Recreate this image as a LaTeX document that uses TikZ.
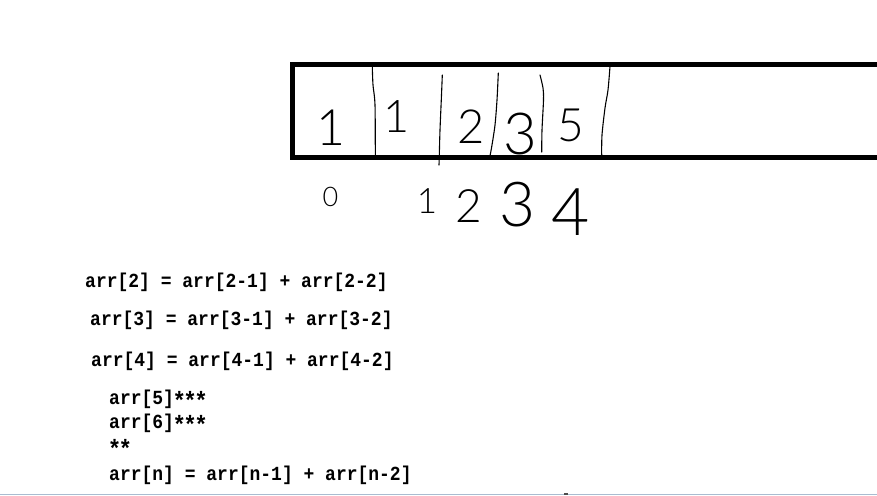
\documentclass[tikz,border=0pt]{standalone}
\usepackage{fontspec}
\newfontfamily\codefont{Liberation Mono}[FakeStretch=0.9]
\newfontfamily\handfont{Lato Light}
\definecolor{baseblue}{HTML}{A9BCD0}
\newcommand\codestar{\makebox[10.8pt]{\raisebox{-5.5pt}{\fontsize{25}{25}\selectfont *}}}
\tikzset{
  code/.style={anchor=base west, inner sep=0, font=\codefont\bfseries\fontsize{20}{20}\selectfont},
  digit/.style={inner sep=0, font=\handfont\fontsize{#1}{#1}\selectfont},
  handline/.style={line width=1.1pt, line cap=round, line join=round},
  frame/.style={line width=5pt}
}
\begin{document}
\begin{tikzpicture}[x=1pt,y=-1pt]
\useasboundingbox (0,0) rectangle (877,495);
\clip (0,0) rectangle (877,495);
% array frame
\draw[frame] (885,64.5) -- (292.5,64.5) -- (292.5,157) -- (885,157);
% hand-drawn dividers
\draw[handline] plot[smooth] coordinates {(372.3,67) (373,85) (375,105) (375.3,155)};
\draw[handline] plot[smooth] coordinates {(442.3,75) (441.5,95) (440,130) (439.3,155) (439,165)};
\draw[handline] plot[smooth] coordinates {(498.3,73) (497,100) (495,125) (492,145) (490,156)};
\draw[handline] plot[smooth] coordinates {(540,75) (543,88) (543.5,100) (542,130) (541.7,152)};
\draw[handline] plot[smooth] coordinates {(610,66.3) (608,90) (605,108) (602,135) (601.7,155)};
% values
\node[digit=50] (v0) at (330.5,128) {1};
\node[digit=45] (v1) at (397,117) {1};
\node[digit=47] (v2) at (471,127) {2};
\node[digit=58] (v3) at (520,134) {3};
\node[digit=46] (v4) at (571,125) {5};
% indices
\node[digit=27] (i0) at (330.5,196.5) {0};
\node[digit=35] (i1) at (427,201) {1};
\node[digit=46] (i2) at (469,206) {2};
\node[digit=62] (i3) at (517,205) {3};
\node[digit=66] (i4) at (571,212) {4};
% formulas
\node[code] (f2) at (85,287.3) {arr[2] = arr[2-1] + arr[2-2]};
\node[code] (f3) at (90,325) {arr[3] = arr[3-1] + arr[3-2]};
\node[code] (f4) at (91,366.7) {arr[4] = arr[4-1] + arr[4-2]};
\node[code] (f5) at (109,404) {arr[5]\codestar\codestar\codestar};
\node[code] (f6) at (109,428.3) {arr[6]\codestar\codestar\codestar};
\node[code] (fs) at (109,452) {\codestar\codestar};
\node[code] (fn) at (109,480) {arr[n] = arr[n-1] + arr[n-2]};
% bottom edge
\fill[baseblue] (0,493.5) rectangle (877,495);
\fill[black!70] (564,492.5) rectangle (568,495);
\end{tikzpicture}
\end{document}
